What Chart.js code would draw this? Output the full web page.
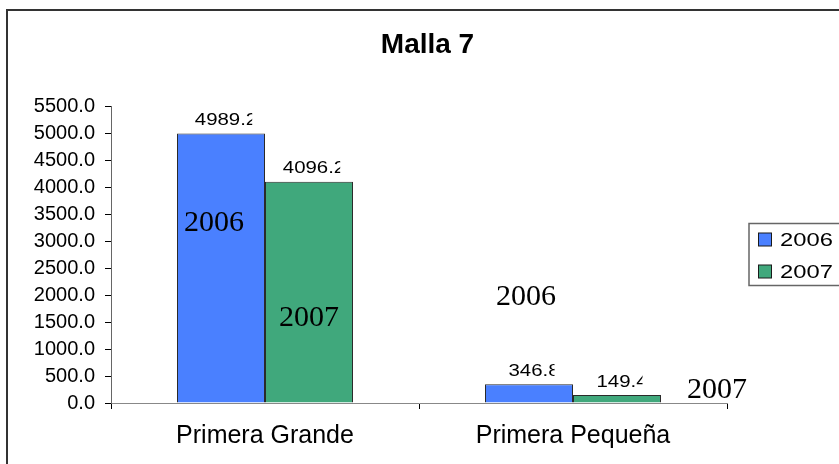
<!DOCTYPE html>
<html>
<head>
<meta charset="utf-8">
<script src="https://cdn.jsdelivr.net/npm/chart.js@4.4.0/dist/chart.umd.min.js"></script>
<style>
html,body{margin:0;padding:0;background:#fff;}
#wrap{width:839px;height:464px;}
</style>
</head>
<body>
<div id="wrap"><canvas id="c" width="839" height="464"></canvas></div>
<script>
// ---- data ----
const categories = ['Primera Grande', 'Primera Pequeña'];
const seriesNames = ['2006', '2007'];
const values2006 = [4989.2, 346.8];
const values2007 = [4096.2, 149.4];
const yTicks = [0, 500, 1000, 1500, 2000, 2500, 3000, 3500, 4000, 4500, 5000, 5500];
const chartTitle = 'Malla 7';
const noteTexts = ['2006', '2007', '2006', '2007'];
const noteCategory = [0, 0, 1, 1];
const noteValue = [3333, 1574, 1963, 241];

// ---- styles (not data) ----
const colors = ['#4A80FF', '#40A87C'];
const noteOffsets = [-51, 44, -47, 144];
const SANS = "'Liberation Sans', Arial, sans-serif";
const SERIF = "'Liberation Serif', 'Times New Roman', serif";

const framePlugin = {
  id: 'frame',
  beforeDraw(chart) {
    const ctx = chart.ctx;
    ctx.save();
    ctx.fillStyle = '#fff';
    ctx.fillRect(0, 0, chart.width, chart.height);
    ctx.strokeStyle = '#333';
    ctx.lineWidth = 2;
    ctx.strokeRect(7, 10, 1000, 1000);
    ctx.restore();
  }
};

const labelPlugin = {
  id: 'valueLabels',
  afterDatasetsDraw(chart) {
    const ctx = chart.ctx;
    chart.data.datasets.forEach((ds, di) => {
      chart.getDatasetMeta(di).data.forEach((bar, i) => {
        const txt = ds.data[i].toFixed(1);
        ctx.save();
        ctx.font = '17px ' + SANS;
        const sx = 1.2;
        const w = ctx.measureText(txt).width * sx;
        const cx = bar.x + 5;
        const cy = bar.y - 13;
        ctx.beginPath();
        ctx.rect(cx - w / 2 - 2, cy - 15, w - 3, 30);
        ctx.clip();
        ctx.translate(cx, cy);
        ctx.scale(sx, 1);
        ctx.fillStyle = '#000';
        ctx.textAlign = 'center';
        ctx.textBaseline = 'middle';
        ctx.fillText(txt, 0, 0);
        ctx.restore();
      });
    });
  }
};

const notePlugin = {
  id: 'notes',
  afterDraw(chart) {
    const ctx = chart.ctx;
    const xs = chart.scales.x, ys = chart.scales.y;
    ctx.save();
    ctx.font = '30px ' + SERIF;
    ctx.fillStyle = '#000';
    ctx.textAlign = 'center';
    ctx.textBaseline = 'middle';
    noteTexts.forEach((t, k) => {
      const x = xs.getPixelForValue(noteCategory[k]) + noteOffsets[k];
      const y = ys.getPixelForValue(noteValue[k]);
      ctx.fillText(t, x, y);
    });
    ctx.restore();
  }
};

const legendPlugin = {
  id: 'boxLegend',
  afterDraw(chart) {
    const ctx = chart.ctx;
    const a = chart.chartArea;
    const left = a.right + 22;
    const mid = (a.top + a.bottom) / 2;
    const top = mid - 31;
    ctx.save();
    ctx.strokeStyle = '#666';
    ctx.lineWidth = 1.5;
    ctx.strokeRect(left, top, 200, 62);
    chart.data.datasets.forEach((ds, i) => {
      const cy = top + 16 + i * 32;
      ctx.fillStyle = ds.backgroundColor;
      ctx.fillRect(left + 9.5, cy - 6.5, 13, 13);
      ctx.strokeStyle = '#1a1a1a';
      ctx.lineWidth = 1;
      ctx.strokeRect(left + 9.5, cy - 6.5, 13, 13);
      ctx.save();
      ctx.translate(left + 31, cy);
      ctx.scale(1.25, 1);
      ctx.font = '19px ' + SANS;
      ctx.fillStyle = '#000';
      ctx.textAlign = 'left';
      ctx.textBaseline = 'middle';
      ctx.fillText(ds.label, 0, 1);
      ctx.restore();
    });
    ctx.restore();
  }
};

new Chart(document.getElementById('c'), {
  type: 'bar',
  data: {
    labels: categories,
    datasets: [
      { label: seriesNames[0], data: values2006, backgroundColor: colors[0], borderColor: '#2a2a2a', borderWidth: 1, categoryPercentage: 0.5714, barPercentage: 1 },
      { label: seriesNames[1], data: values2007, backgroundColor: colors[1], borderColor: '#2a2a2a', borderWidth: 1, categoryPercentage: 0.5714, barPercentage: 1 }
    ]
  },
  options: {
    responsive: false,
    animation: false,
    events: [],
    layout: { padding: { left: 16, right: 0, top: 0, bottom: 0 } },
    plugins: {
      legend: { display: false },
      tooltip: { enabled: false },
      title: {
        display: true,
        text: chartTitle,
        color: '#000',
        font: { family: SANS, size: 28, weight: 'bold', lineHeight: 1.2 },
        padding: { top: 28, bottom: 44.4 }
      }
    },
    scales: {
      x: {
        grid: { offset: true, drawOnChartArea: false, drawTicks: true, tickLength: 6, color: '#000' },
        border: { display: true, color: '#888', width: 1 },
        ticks: { color: '#000', font: { family: SANS, size: 25 }, padding: 12, maxRotation: 0 },
        afterFit(s) { s.height = 61; }
      },
      y: {
        min: 0, max: 5500,
        afterBuildTicks(s) { s.ticks = yTicks.map(v => ({ value: v })); },
        grid: { drawOnChartArea: false, drawTicks: true, tickLength: 6, color: '#000' },
        border: { display: true, color: '#666', width: 1 },
        ticks: { color: '#000', font: { family: SANS, size: 20 }, padding: 10, autoSkip: false, callback: v => Number(v).toFixed(1) },
        afterFit(s) { s.width = 95; }
      },
      y2: {
        position: 'right',
        display: true,
        grid: { display: false, drawTicks: false },
        border: { display: false },
        ticks: { display: false },
        afterFit(s) { s.width = 112; }
      }
    }
  },
  plugins: [framePlugin, labelPlugin, notePlugin, legendPlugin]
});
</script>
</body>
</html>
